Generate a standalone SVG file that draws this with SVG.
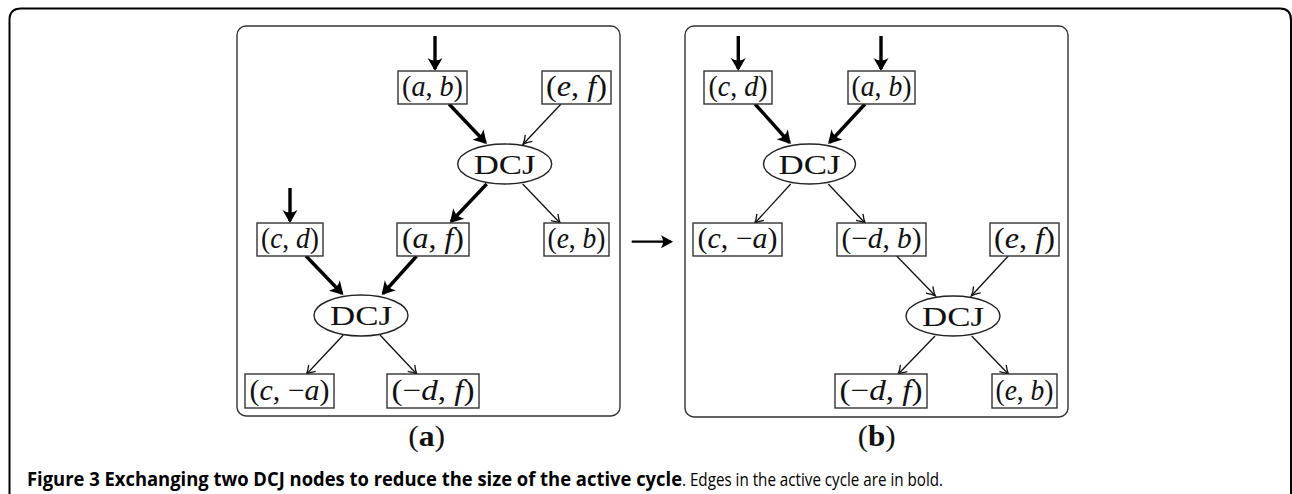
<svg xmlns="http://www.w3.org/2000/svg" width="1292" height="494" viewBox="0 0 1292 494">
<style>
.frame{fill:none;stroke:#000;stroke-width:2}
.panel{fill:none;stroke:#333;stroke-width:1.4}
.box{fill:#fff;stroke:#333;stroke-width:1.4}
.ell{fill:#fff;stroke:#222;stroke-width:1.4}
.m{font-family:"Liberation Serif","DejaVu Serif",serif;font-size:29px;fill:#111;text-anchor:middle}
.d{font-size:27px}
.it{font-style:italic}
.bold{stroke:#000;stroke-width:3.4;fill:none;marker-end:url(#hb)}
.thin{stroke:#111;stroke-width:1.3;fill:none;marker-end:url(#ht)}
.mid{stroke:#000;stroke-width:2.2;fill:none;marker-end:url(#hm)}
.cap{font-family:"Open Sans","Noto Sans","Liberation Sans",sans-serif;font-size:19px;fill:#000}
</style>
<defs>
<marker id="hb" markerUnits="userSpaceOnUse" viewBox="-14 -9 18 18" markerWidth="18" markerHeight="18" refX="0" refY="0" orient="auto">
<path d="M2,0 L-11,-7.5 Q-6,0 -11,7.5 Z" fill="#000"/>
</marker>
<marker id="hm" markerUnits="userSpaceOnUse" viewBox="-14 -9 18 18" markerWidth="18" markerHeight="18" refX="0" refY="0" orient="auto">
<path d="M2,0 L-10,-6.5 Q-6,0 -10,6.5 Z" fill="#000"/>
</marker>
<marker id="ht" markerUnits="userSpaceOnUse" viewBox="-10 -6 12 12" markerWidth="12" markerHeight="12" refX="0" refY="0" orient="auto">
<path d="M-8,-4.8 Q-3,-1 0.5,0 Q-3,1 -8,4.8" fill="none" stroke="#111" stroke-width="1.3"/>
</marker>
</defs>
<path class="frame" d="M9.5,494 V20 Q9.5,8.5 21,8.5 H1280 Q1291,8.5 1291,20 V494"/>
<rect class="panel" x="237" y="26" width="383" height="390" rx="9"/>
<rect class="panel" x="685" y="26" width="383" height="391" rx="9"/>
<g id="connectors">
<line class="bold" x1="435" y1="36" x2="435" y2="69"/>
<line class="bold" x1="290" y1="188" x2="290" y2="221"/>
<line class="bold" x1="449" y1="104" x2="485.5" y2="142.5"/>
<line class="thin" x1="561" y1="104" x2="523.3" y2="144"/>
<line class="bold" x1="486.7" y1="184" x2="451.2" y2="221.5"/>
<line class="thin" x1="522.7" y1="184" x2="560" y2="223"/>
<line class="bold" x1="306" y1="256" x2="342" y2="293.5"/>
<line class="bold" x1="416.7" y1="256" x2="383" y2="293.5"/>
<line class="thin" x1="343.3" y1="335" x2="306.7" y2="374"/>
<line class="thin" x1="380" y1="335" x2="416.7" y2="374"/>
<line class="mid" x1="631.7" y1="241.7" x2="671" y2="241.7"/>
<line class="bold" x1="738.3" y1="36" x2="738.3" y2="69"/>
<line class="bold" x1="881" y1="36" x2="881" y2="69"/>
<line class="bold" x1="755" y1="104" x2="789.5" y2="142.5"/>
<line class="bold" x1="865" y1="104" x2="829.5" y2="142.5"/>
<line class="thin" x1="790.7" y1="184" x2="755" y2="223"/>
<line class="thin" x1="828.3" y1="184" x2="865" y2="223"/>
<line class="thin" x1="896.7" y1="256" x2="935" y2="295.5"/>
<line class="thin" x1="1008.3" y1="256" x2="971.7" y2="295.5"/>
<line class="thin" x1="935" y1="336" x2="898.3" y2="374"/>
<line class="thin" x1="971.7" y1="336" x2="1008.3" y2="374"/>
</g>
<g id="ab1"><rect class="box" x="398" y="71" width="69" height="33"/><text class="m" x="432.5" y="96" textLength="61" lengthAdjust="spacingAndGlyphs">(<tspan class="it">a</tspan>, <tspan class="it">b</tspan>)</text></g>
<g id="ef1"><rect class="box" x="542" y="71" width="69" height="33"/><text class="m" x="576.5" y="96" textLength="61" lengthAdjust="spacingAndGlyphs">(<tspan class="it">e</tspan>, <tspan class="it">f</tspan>)</text></g>
<g id="dcj1"><ellipse class="ell" cx="504.7" cy="164" rx="47" ry="20"/><text class="m d" x="504.7" y="173.5" textLength="62" lengthAdjust="spacingAndGlyphs">DCJ</text></g>
<g id="cd1"><rect class="box" x="257" y="223" width="66" height="33"/><text class="m" x="290" y="248" textLength="58" lengthAdjust="spacingAndGlyphs">(<tspan class="it">c</tspan>, <tspan class="it">d</tspan>)</text></g>
<g id="af1"><rect class="box" x="397" y="223" width="72" height="33"/><text class="m" x="433" y="248" textLength="62" lengthAdjust="spacingAndGlyphs">(<tspan class="it">a</tspan>, <tspan class="it">f</tspan>)</text></g>
<g id="eb1"><rect class="box" x="544" y="223" width="65" height="33"/><text class="m" x="576.5" y="248" textLength="58" lengthAdjust="spacingAndGlyphs">(<tspan class="it">e</tspan>, <tspan class="it">b</tspan>)</text></g>
<g id="dcj2"><ellipse class="ell" cx="361" cy="315.5" rx="47" ry="20.5"/><text class="m d" x="361" y="325" textLength="62" lengthAdjust="spacingAndGlyphs">DCJ</text></g>
<g id="ca1"><rect class="box" x="245" y="374" width="89" height="34"/><text class="m" x="289.5" y="400" textLength="80" lengthAdjust="spacingAndGlyphs">(<tspan class="it">c</tspan>, −<tspan class="it">a</tspan>)</text></g>
<g id="df1"><rect class="box" x="387" y="374" width="92" height="34"/><text class="m" x="433" y="400" textLength="83" lengthAdjust="spacingAndGlyphs">(−<tspan class="it">d</tspan>, <tspan class="it">f</tspan>)</text></g>
<g id="cd2"><rect class="box" x="704" y="71" width="68" height="33"/><text class="m" x="738" y="96" textLength="59" lengthAdjust="spacingAndGlyphs">(<tspan class="it">c</tspan>, <tspan class="it">d</tspan>)</text></g>
<g id="ab2"><rect class="box" x="848" y="71" width="67" height="33"/><text class="m" x="881.5" y="96" textLength="60" lengthAdjust="spacingAndGlyphs">(<tspan class="it">a</tspan>, <tspan class="it">b</tspan>)</text></g>
<g id="dcj3"><ellipse class="ell" cx="809.5" cy="164" rx="46" ry="20"/><text class="m d" x="809.5" y="173.5" textLength="62" lengthAdjust="spacingAndGlyphs">DCJ</text></g>
<g id="ca2"><rect class="box" x="693" y="223" width="89" height="33"/><text class="m" x="737.5" y="248" textLength="80" lengthAdjust="spacingAndGlyphs">(<tspan class="it">c</tspan>, −<tspan class="it">a</tspan>)</text></g>
<g id="db2"><rect class="box" x="837" y="223" width="89" height="33"/><text class="m" x="881.5" y="248" textLength="80" lengthAdjust="spacingAndGlyphs">(−<tspan class="it">d</tspan>, <tspan class="it">b</tspan>)</text></g>
<g id="ef2"><rect class="box" x="990" y="223" width="69" height="33"/><text class="m" x="1024.5" y="248" textLength="61" lengthAdjust="spacingAndGlyphs">(<tspan class="it">e</tspan>, <tspan class="it">f</tspan>)</text></g>
<g id="dcj4"><ellipse class="ell" cx="953" cy="316" rx="47" ry="20"/><text class="m d" x="953" y="325.5" textLength="62" lengthAdjust="spacingAndGlyphs">DCJ</text></g>
<g id="df2"><rect class="box" x="835" y="374" width="92" height="34"/><text class="m" x="881" y="400" textLength="83" lengthAdjust="spacingAndGlyphs">(−<tspan class="it">d</tspan>, <tspan class="it">f</tspan>)</text></g>
<g id="eb2"><rect class="box" x="992" y="374" width="65" height="34"/><text class="m" x="1024.5" y="400" textLength="58" lengthAdjust="spacingAndGlyphs">(<tspan class="it">e</tspan>, <tspan class="it">b</tspan>)</text></g>
<text class="m" x="426.7" y="446" textLength="37" lengthAdjust="spacingAndGlyphs">(<tspan font-weight="bold">a</tspan>)</text>
<text class="m" x="876.7" y="446" textLength="38" lengthAdjust="spacingAndGlyphs">(<tspan font-weight="bold">b</tspan>)</text>
<text class="cap" x="27" y="486"><tspan font-weight="bold" textLength="655" lengthAdjust="spacingAndGlyphs">Figure 3 Exchanging two DCJ nodes to reduce the size of the active cycle</tspan><tspan textLength="261" lengthAdjust="spacingAndGlyphs">. Edges in the active cycle are in bold.</tspan></text>
</svg>
